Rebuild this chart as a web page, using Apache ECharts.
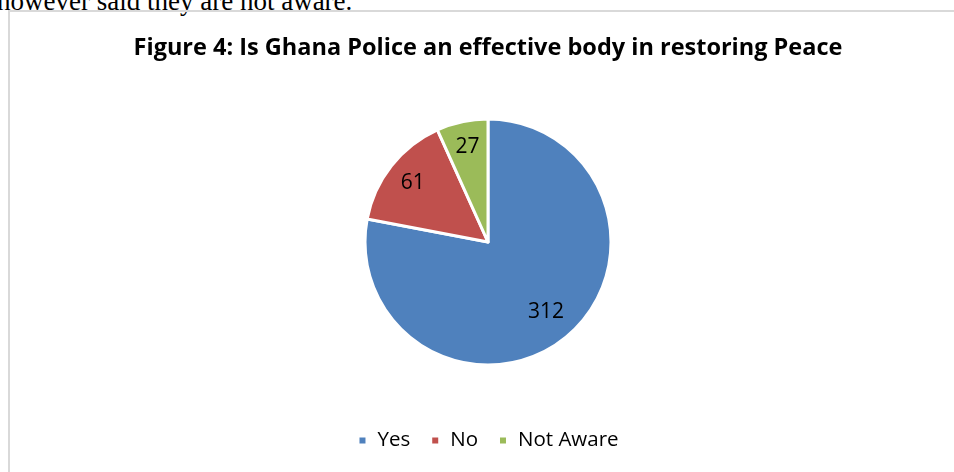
<!DOCTYPE html>
<html>
<head>
<meta charset="utf-8">
<script src="https://cdn.jsdelivr.net/npm/echarts@6/dist/echarts.min.js"></script>
<style>
html,body{margin:0;padding:0;background:#fff;overflow:hidden;}
#top{position:absolute;left:-3px;top:-14px;font-family:"Liberation Serif","DejaVu Serif",serif;font-size:27px;color:#000;white-space:nowrap;}
#frame{position:absolute;left:8px;top:10px;width:1000px;height:520px;border:2px solid #d9d9d9;box-sizing:border-box;}
#chart{position:absolute;left:11px;top:0;width:954px;height:472px;}
</style>
</head>
<body>
<div id="top">however said they are not aware.</div>
<div id="frame"></div>
<div id="chart"></div>
<script>
const categories = ["Yes", "No", "Not Aware"];
const values = [312, 61, 27];
const colors = ["#4f81bd", "#c0504d", "#9bbb59"];
const labelRadiusFrac = [0.74, 0.78, 0.79];

const chart = echarts.init(document.getElementById('chart'));
const cx = 477, cy = 242, R = 123;
chart.setOption({
  animation: false,
  title: {
    text: "Figure 4: Is Ghana Police an effective body in restoring Peace",
    left: 'center', top: 31,
    textStyle: {fontFamily: 'Open Sans', fontWeight: 'bold', fontSize: 23.5, color: '#000'}
  },
  legend: {
    bottom: 16, left: 'center',
    itemWidth: 8, itemHeight: 8, itemGap: 20,
    icon: 'rect',
    textStyle: {fontFamily: 'Open Sans', fontSize: 20.5, color: '#000', padding: [0, 0, 0, 6]},
    data: categories
  },
  series: [{
    type: 'pie',
    center: [cx, cy],
    radius: R,
    startAngle: 90,
    clockwise: true,
    itemStyle: {borderColor: '#fff', borderWidth: 3},
    label: {
      show: true, position: 'inside', formatter: '{c}',
      fontFamily: 'Open Sans', fontSize: 21, color: '#000'
    },
    labelLayout: function (p) {
      const r = p.labelRect;
      const lx = r.x + r.width / 2, ly = r.y + r.height / 2;
      const ang = Math.atan2(ly - cy, lx - cx);
      const f = labelRadiusFrac[p.dataIndex] * R;
      return {x: cx + Math.cos(ang) * f, y: cy + Math.sin(ang) * f, align: 'center', verticalAlign: 'middle'};
    },
    emphasis: {disabled: true},
    data: categories.map((c, i) => ({name: c, value: values[i], itemStyle: {color: colors[i]}}))
  }]
});
</script>
</body>
</html>
